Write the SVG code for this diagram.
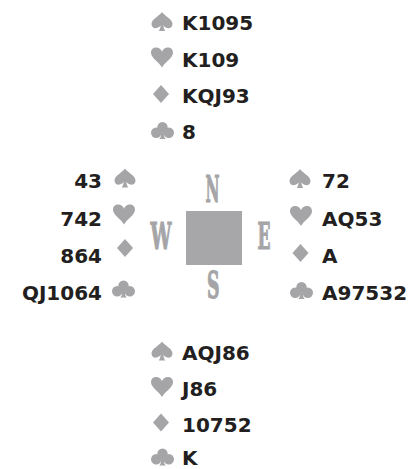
<svg xmlns="http://www.w3.org/2000/svg" xmlns:xlink="http://www.w3.org/1999/xlink" width="409" height="469" viewBox="0 0 409 469">
<style>
.card{font-family:"DejaVu Sans","Liberation Sans",sans-serif;font-weight:bold;font-size:20px;fill:#231f20}
.end{text-anchor:end}
.suit{fill:#a5a5a8}
.dir{font-family:"DejaVu Serif","Liberation Serif",serif;font-weight:bold;font-size:37px;fill:#a5a5a8;stroke:#a5a5a8;stroke-width:1.2px}
</style>
<defs>
<path id="sp" d="M0,-9.5 C2.5,-5.5 10.5,-2.5 10.5,2.5 C10.5,5.8 7.8,7.2 5.2,6.6 C3.5,6.2 2.2,5 1.3,3.8 C1.5,6 2.2,8 3.2,9.5 L-3.2,9.5 C-2.2,8 -1.5,6 -1.3,3.8 C-2.2,5 -3.5,6.2 -5.2,6.6 C-7.8,7.2 -10.5,5.8 -10.5,2.5 C-10.5,-2.5 -2.5,-5.5 0,-9.5 Z"/>
<path id="he" d="M0,10 C-2.5,5 -11,0.5 -11,-4.8 C-11,-8.2 -8.6,-10 -5.8,-10 C-3,-10 -0.8,-8 0,-5.8 C0.8,-8 3,-10 5.8,-10 C8.6,-10 11,-8.2 11,-4.8 C11,0.5 2.5,5 0,10 Z"/>
<path id="di" d="M0,-9 L8,0 L0,9 L-8,0 Z"/>
<g id="cl"><circle cx="0" cy="-3.3" r="5.2"/><circle cx="-6.3" cy="2.2" r="5.2"/><circle cx="6.3" cy="2.2" r="5.2"/><path d="M-1.2,1 L1.2,1 L1.8,6 C2,7.5 3,8.3 3.6,8.5 L-3.6,8.5 C-3,8.3 -2,7.5 -1.8,6 Z"/></g>
</defs>
<g id="connectors"/>
<g id="north">
<use class="suit" xlink:href="#sp" x="162" y="21.5"/>
<use class="suit" xlink:href="#he" x="162" y="57.5"/>
<use class="suit" xlink:href="#di" x="161" y="94"/>
<use class="suit" xlink:href="#cl" x="162.5" y="130.5"/>
<text class="card" x="182" y="30">K1095</text>
<text class="card" x="182" y="66.5">K109</text>
<text class="card" x="182" y="103">KQJ93</text>
<text class="card" x="182" y="139">8</text>
</g>
<g id="west">
<use class="suit" xlink:href="#sp" x="125" y="178"/>
<use class="suit" xlink:href="#he" x="124" y="214.5"/>
<use class="suit" xlink:href="#di" x="125" y="248"/>
<use class="suit" xlink:href="#cl" x="123.5" y="289"/>
<text class="card end" x="102" y="188">43</text>
<text class="card end" x="102" y="225.5">742</text>
<text class="card end" x="102" y="262.5">864</text>
<text class="card end" x="102" y="299.5">QJ1064</text>
</g>
<g id="east">
<use class="suit" xlink:href="#sp" x="300" y="178.5"/>
<use class="suit" xlink:href="#he" x="301" y="216"/>
<use class="suit" xlink:href="#di" x="300.5" y="253"/>
<use class="suit" xlink:href="#cl" x="301.5" y="290.5"/>
<text class="card" x="322" y="188">72</text>
<text class="card" x="322" y="225.5">AQ53</text>
<text class="card" x="322" y="262.5">A</text>
<text class="card" x="322" y="299.5">A97532</text>
</g>
<g id="compass">
<rect x="186" y="211" width="56" height="54" fill="#a7a7aa"/>
<text class="dir" x="205.5" y="202" textLength="14" lengthAdjust="spacingAndGlyphs">N</text>
<text class="dir" x="150.5" y="248.5" textLength="21" lengthAdjust="spacingAndGlyphs">W</text>
<text class="dir" x="257.5" y="248.5" textLength="13" lengthAdjust="spacingAndGlyphs">E</text>
<text class="dir" x="207" y="297.5" textLength="12.5" lengthAdjust="spacingAndGlyphs">S</text>
</g>
<g id="south">
<use class="suit" xlink:href="#sp" x="162" y="351"/>
<use class="suit" xlink:href="#he" x="162" y="387"/>
<use class="suit" xlink:href="#di" x="161" y="422.5"/>
<use class="suit" xlink:href="#cl" x="162.5" y="457"/>
<text class="card" x="182" y="359.5">AQJ86</text>
<text class="card" x="182" y="396">J86</text>
<text class="card" x="182" y="431.5">10752</text>
<text class="card" x="182" y="465">K</text>
</g>
</svg>
